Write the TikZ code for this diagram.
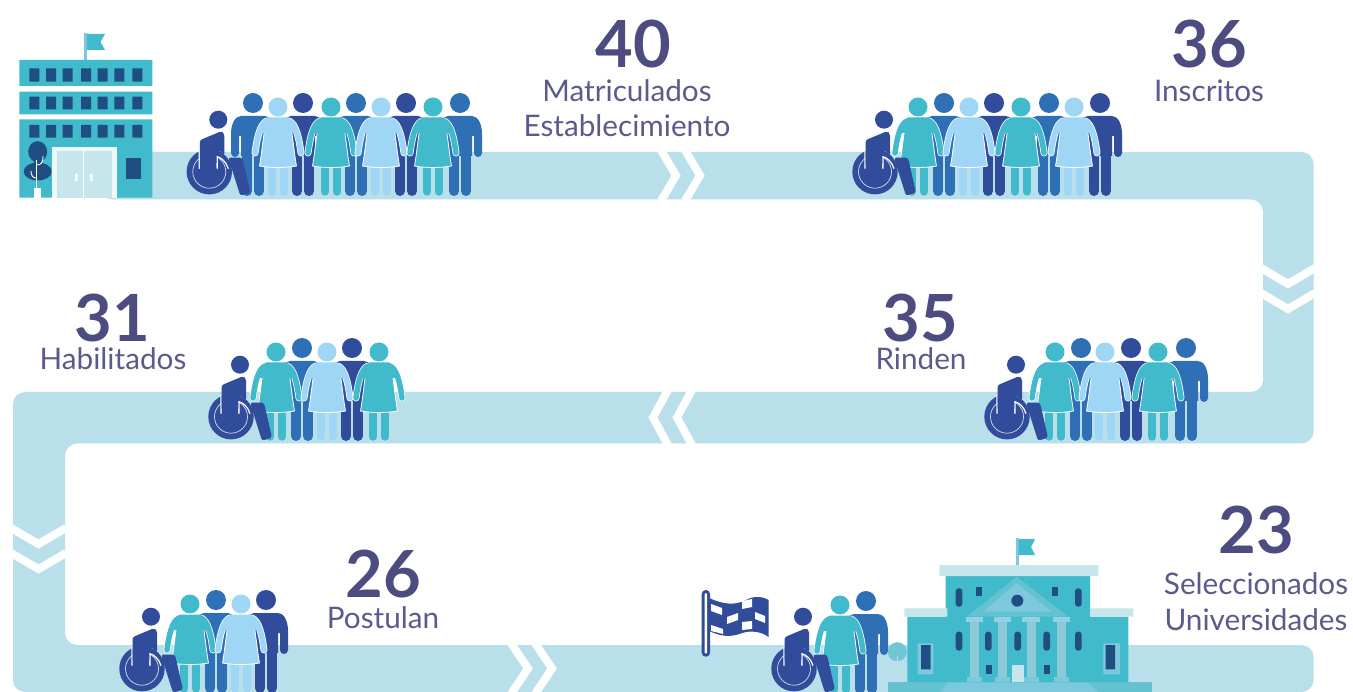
\documentclass[tikz,border=0pt]{standalone}
\usepackage{fontspec}
\setmainfont{Lato}
\definecolor{band}{HTML}{B8DFEA}
\definecolor{midb}{HTML}{2F6FB5}
\definecolor{darkb}{HTML}{304C9B}
\definecolor{lightb}{HTML}{A0D6F5}
\definecolor{teal}{HTML}{41BACB}
\definecolor{win}{HTML}{1F4E82}
\definecolor{pale}{HTML}{C6E6EC}
\definecolor{soft}{HTML}{7CC8DC}
\definecolor{colm}{HTML}{8CCAD8}
\definecolor{basec}{HTML}{63C1D0}
\definecolor{numc}{HTML}{4C4C80}
\definecolor{labc}{HTML}{5A5A8C}
\newcommand\ManFig[3]{\begin{scope}[shift={(#1,#2)}]
 \fill[#3] (0,-93) circle (10);
 \fill[#3] (-12,-80) -- (12,-80) .. controls (18,-80) and (22,-72) .. (22,-62) -- (22,-43) -- (14,-43) -- (14,-60) -- (12,-60) -- (12,-40) -- (-12,-40) -- (-12,-60) -- (-14,-60) -- (-14,-43) -- (-22,-43) -- (-22,-62) .. controls (-22,-72) and (-18,-80) .. (-12,-80) -- cycle;
 \fill[#3] (18,-43) circle (4); \fill[#3] (-18,-43) circle (4);
 \draw[#3,line width=10pt,line cap=round] (6,-45) -- (6,-5) (-6,-45) -- (-6,-5);
\end{scope}}
\newcommand\WomanFig[3]{\begin{scope}[shift={(#1,#2)}]
 \fill[#3] (0,-89) circle (9.5);
 \draw[#3,line width=8.5pt,line cap=round] (6,-35) -- (6,-4.5) (-6,-35) -- (-6,-4.5);
 \draw[white,line width=7pt,line cap=round] (11,-75) .. controls (18,-72) and (21,-58) .. (23,-43) (-11,-75) .. controls (-18,-72) and (-21,-58) .. (-23,-43);
 \draw[#3,line width=5.5pt,line cap=round] (11,-75) .. controls (18,-72) and (21,-58) .. (23,-43) (-11,-75) .. controls (-18,-72) and (-21,-58) .. (-23,-43);
 \fill[#3,draw=white,line width=.8pt] (-10,-78) -- (10,-78) .. controls (14,-72) and (15,-50) .. (18.5,-30) .. controls (8,-28) and (-8,-28) .. (-18.5,-30) .. controls (-15,-50) and (-14,-72) .. (-10,-78) -- cycle;
 \fill[#3] (-10,-78.5) -- (10,-78.5) -- (16,-74) -- (20,-63) -- (-20,-63) -- (-16,-74) -- cycle;
\end{scope}}
\newcommand\ChairFig[2]{\begin{scope}[shift={(#1,#2-24.3)}]
 \fill[darkb,rounded corners=2.5pt] (19,-14) -- (33,-14) -- (41,21) -- (31,24) -- cycle;
 \fill[darkb] (0,0) circle (22.7);
 \draw[white,line width=.7pt,opacity=.8] (0,0) circle (16.5);
 \fill[darkb] (9,-52) circle (9);
 \draw[white,line width=1.2pt] (-10,-22) -- (-10,-3) arc (180:360:9) -- (8,-15) .. controls (12,-14) and (17,-10) .. (19,-3);
 \fill[darkb,rounded corners=2.5pt] (-9.5,-31.5) -- (12,-40.5) -- (15,-38) -- (15,-16) .. controls (12,-20) and (9,-21) .. (7,-21) -- (7,-5) .. controls (7,2) and (-9.5,2) .. (-9.5,-5) -- cycle;
\end{scope}}
\begin{document}
\begin{tikzpicture}[x=1pt,y=-1pt,
  numtxt/.style={anchor=base,text=numc,font=\fontsize{65}{65}\selectfont\bfseries,inner sep=0pt},
  labtxt/.style={anchor=base,text=labc,font=\fontsize{29.7}{30}\selectfont,inner sep=0pt},
  chev/.style={draw=white,line width=8pt,miter limit=10}]
\clip (0,0) rectangle (1353,692);
\fill[white] (0,0) rectangle (1353,692);
% track
\fill[band,rounded corners=12pt] (100,152) -- (1313.5,152) -- (1313.5,443.5) -- (65,443.5) -- (65,645) -- (1313.5,645) -- (1313.5,692) -- (13,692) -- (13,392) -- (1263,392) -- (1263,199.5) -- (100,199.5) -- cycle;
% chevrons
\draw[chev] (661,150) -- (676,175.5) -- (661,201) (685,150) -- (700,175.5) -- (685,201);
\draw[chev] (1261,268) -- (1288,284) -- (1315,268) (1261,293) -- (1288,309) -- (1315,293);
\draw[chev] (668,390) -- (653,417.5) -- (668,445) (692,390) -- (677,417.5) -- (692,445);
\draw[chev] (11,528) -- (38.5,544) -- (66,528) (11,553) -- (38.5,569) -- (66,553);
\draw[chev] (511,643) -- (528,668.5) -- (511,694) (535,643) -- (552,668.5) -- (535,694);
% school
\fill[soft] (84.3,33) rectangle (87.3,60);
\fill[teal] (87,34) -- (105,34) -- (100.5,42) -- (105,50) -- (87,50) -- cycle;
\fill[teal] (19.3,60) rectangle (152.3,86) (19.3,91.7) rectangle (152.3,114.3) (19.3,119.3) rectangle (152.3,197.7);
\foreach \x in {29.3,46,62.7,81,97.7,114.3,132.3}{
 \fill[win] (\x,68.3) rectangle ++(10,13.4) (\x,96.7) rectangle ++(10,12.6) (\x,125) rectangle ++(10,12.7);}
\fill[white!70!pale] (51.7,146.7) rectangle (117.3,197.7);
\fill[pale] (57.3,151) rectangle (111.7,197.7);
\draw[white,line width=.8pt] (83.5,151) -- (83.5,197.7);
\fill[white] (75,174) rectangle (77.5,181) (90,174) rectangle (92.5,181);
\fill[win] (126,158.3) rectangle (140.7,179.3);
\fill[win] (37.7,151.7) ellipse (9.5 and 10.5);
\fill[win] (37.7,171.5) ellipse (14 and 9);
\fill[win] (34,158) rectangle (42,166);
\draw[white,line width=.9pt] (36.5,160) -- (36.5,190) (36.5,178) .. controls (33,178) and (31,176) .. (31,171) (36.5,165) .. controls (41,165) and (43,163) .. (43,156);
\fill[white] (34.3,188) rectangle (40.7,198);
% people
\ManFig{253}{196}{midb}\ManFig{303}{196}{darkb}\ManFig{356}{196}{midb}\ManFig{406}{196}{darkb}\ManFig{460}{196}{midb}
\WomanFig{278}{196}{lightb}\WomanFig{331}{196}{teal}\WomanFig{381}{196}{lightb}\WomanFig{433}{196}{teal}
\ChairFig{209.3}{196}
\ManFig{944}{196}{midb}\ManFig{994}{196}{darkb}\ManFig{1049}{196}{midb}\ManFig{1100}{196}{darkb}
\WomanFig{918}{196}{teal}\WomanFig{969}{196}{lightb}\WomanFig{1021}{196}{teal}\WomanFig{1074}{196}{lightb}
\ChairFig{875}{196}
\ManFig{1081}{441}{midb}\ManFig{1131}{441}{darkb}\ManFig{1186}{441}{midb}
\WomanFig{1055}{441}{teal}\WomanFig{1105}{441}{lightb}\WomanFig{1158}{441}{teal}
\ChairFig{1007}{441}
\ManFig{302}{441}{midb}\ManFig{352}{441}{darkb}
\WomanFig{276}{441}{teal}\WomanFig{327}{441}{lightb}\WomanFig{379}{441}{teal}
\ChairFig{231}{441}
\ManFig{216}{693}{midb}\ManFig{266}{693}{darkb}
\WomanFig{190}{693}{teal}\WomanFig{241}{693}{lightb}
\ChairFig{142}{693}
\ManFig{866}{694}{midb}
\WomanFig{840}{694}{teal}
\ChairFig{794}{693}
% checkered flag
\fill[darkb,rounded corners=4pt] (701.7,590) rectangle (710,656.7);
\fill[white,rounded corners=1.4pt] (704.5,593) rectangle (707.2,653.7);
\fill[darkb] (709,598) .. controls (722,604) and (735,606) .. (746,600) .. controls (753,596) and (762,596) .. (768.5,600) -- (768.5,637) .. controls (762,632) and (752,630) .. (742,633) .. controls (730,638) and (720,636) .. (709,631) -- cycle;
\fill[white] (711,604) -- (722,608) -- (722,615) -- (711,611) -- cycle
 (742,601) -- (752,599) -- (752,607) -- (742,609) -- cycle
 (727,617) -- (738,613) -- (738,620) -- (727,624) -- cycle
 (755,612) -- (765,616) -- (765,623) -- (755,619) -- cycle
 (711,625) -- (723,629) -- (723,634) -- (711,631) -- cycle
 (742,622) -- (752,621) -- (752,629) -- (742,630) -- cycle;
% university
\fill[soft] (1016,538) rectangle (1018.7,565);
\fill[teal] (1018.7,539) -- (1035,539) -- (1031,547) -- (1035,555) -- (1018.7,555) -- cycle;
\fill[basec!85!band] (897.3,651.7) circle (9.5);
\draw[band,line width=1pt] (897,656) -- (897,682);
\fill[teal] (945.7,576) rectangle (1090,617) (907.3,616.7) rectangle (1128.3,682);
\fill[pale] (939.3,565) rectangle (1098.3,576) (904.3,608.3) rectangle (947.3,616.7) (1090,608.3) rectangle (1133.3,616.7);
\fill[basec] (1016.7,576.7) -- (1068.3,616.7) -- (966.7,616.7) -- cycle;
\fill[soft] (1016.7,583.3) -- (1051.7,611.7) -- (983.3,611.7) -- cycle;
\fill[win] (1017.3,600.7) circle (6);
\foreach \x in {955.7,1075}{\fill[win,rounded corners=3pt] (\x,588.3) rectangle ++(6.7,18.4);}
\foreach \x in {975.7,1051.7}{\fill[win] (\x,586.7) rectangle ++(6.7,9.3);}
\foreach \x in {955.7,985,1014.3,1043.3,1075}{\fill[win,rounded corners=3pt] (\x,631.7) rectangle ++(6.7,19);}
\foreach \x in {985.7,1043.7}{\fill[win] (\x,665) rectangle ++(6.7,9.3);}
\fill[pale] (1012.3,665) rectangle (1024,682);
\foreach \x in {974.7,1002.7,1031,1061.3}{
 \fill[colm] (\x-4.5,620) rectangle (\x+4.5,677);
 \fill[soft!70!pale] (\x-8.7,616.7) rectangle (\x+8.7,621.7);
 \fill[soft] (\x-7.5,676.7) rectangle (\x+7.5,683);}
\fill[soft] (917.7,643.3) rectangle (933.3,674.3) (1103.3,643.3) rectangle (1120,674.3);
\fill[win] (921,645) rectangle (930.7,669.3) (1105.7,645) rectangle (1115,669.3);
\fill[basec] (887.7,681.7) rectangle (1151.7,692);
\fill[soft] (940,692) -- (948,682.5) -- (1088,682.5) -- (1098,692) -- cycle;
% texts
\node[numtxt] (n40) at (633,67.5) {40};
\node[labtxt] (l40a) at (627,101.5) {Matriculados};
\node[labtxt] (l40b) at (627,136.5) {Establecimiento};
\node[numtxt] (n36) at (1209,67.5) {36};
\node[labtxt] (l36) at (1209,101.5) {Inscritos};
\node[numtxt] (n31) at (112,341.5) {31};
\node[labtxt] (l31) at (113,369.5) {Habilitados};
\node[numtxt] (n35) at (920,341.5) {35};
\node[labtxt] (l35) at (921,369.5) {Rinden};
\node[numtxt] (n26) at (383,597.5) {26};
\node[labtxt] (l26) at (383,628.5) {Postulan};
\node[numtxt] (n23) at (1256,553.5) {23};
\node[labtxt] (l23a) at (1256,594.5) {Seleccionados};
\node[labtxt] (l23b) at (1256,630.5) {Universidades};
\end{tikzpicture}
\end{document}
